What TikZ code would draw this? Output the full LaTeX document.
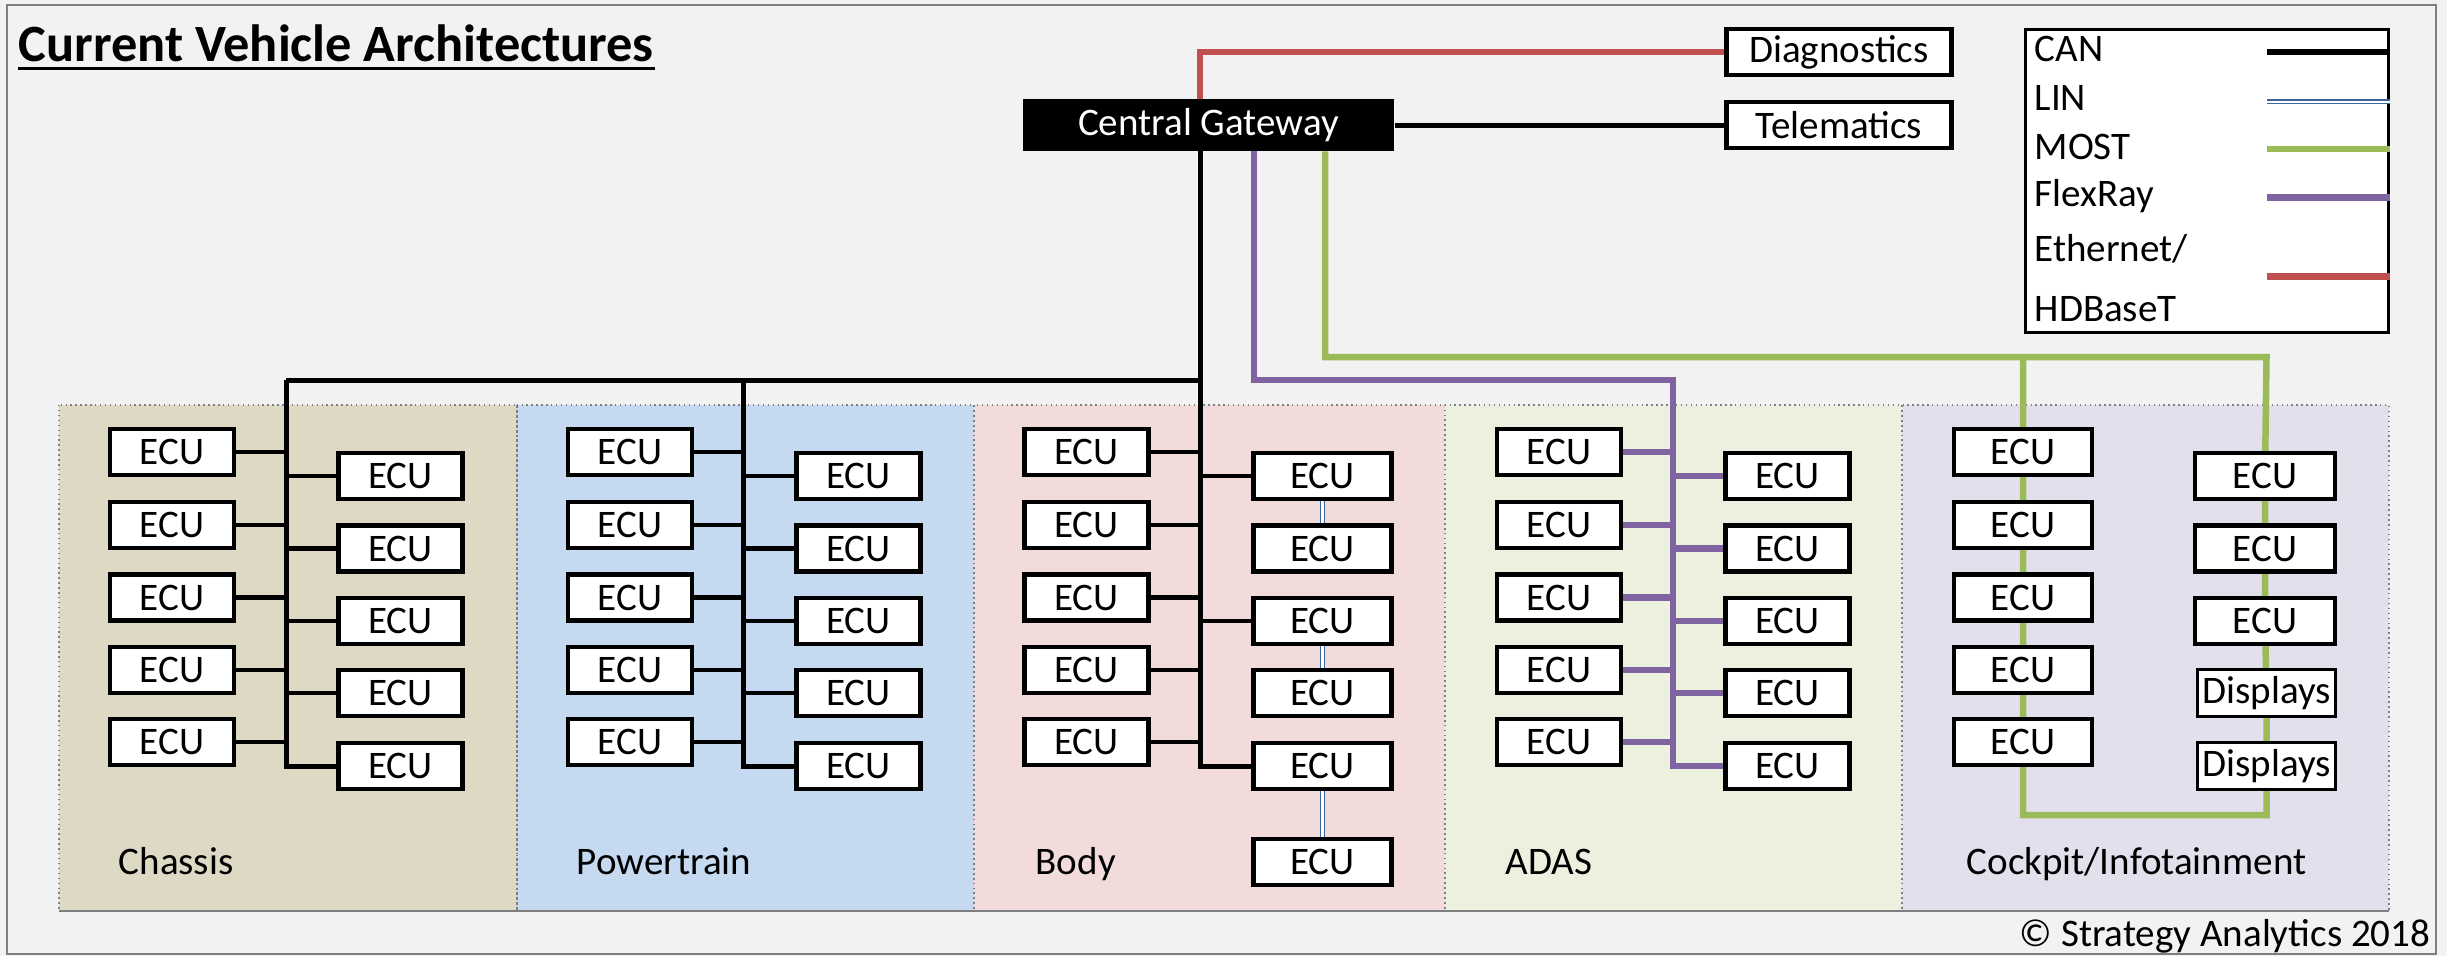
\documentclass[tikz,border=0pt]{standalone}
\usepackage{fontspec}
\setmainfont{Carlito}
\usetikzlibrary{calc}
\pgfdeclarelayer{bg}
\pgfdeclarelayer{wires}
\pgfsetlayers{bg,wires,main}
\definecolor{bgc}{HTML}{F2F2F2}
\definecolor{framegray}{HTML}{7F7F7F}
\definecolor{chassisc}{HTML}{DDD9C4}
\definecolor{powerc}{HTML}{C5D9F1}
\definecolor{bodyc}{HTML}{F2DCDB}
\definecolor{adasc}{HTML}{EBF1DE}
\definecolor{cockc}{HTML}{E4DFEC}
\definecolor{ethc}{HTML}{C0504D}
\definecolor{mostc}{HTML}{9BBB59}
\definecolor{flexc}{HTML}{8064A2}
\definecolor{linc}{HTML}{3E64A0}
\newcommand\txtfont{\fontsize{11.1}{13.3}\selectfont}
\newcommand\ttlfont{\fontsize{14.9}{18}\selectfont\bfseries}
\begin{document}
\begin{tikzpicture}[x=0.01cm,y=-0.01cm,
  ecu/.style={draw, line width=0.045cm, fill=white, minimum width=1.236cm, minimum height=0.456cm, inner sep=0pt, font=\txtfont},
  wecu/.style={ecu, minimum width=1.38cm},
  dispbox/.style={ecu, line width=0.03cm, minimum width=1.37cm, minimum height=0.466cm},
  extbox/.style={ecu, minimum width=2.25cm, minimum height=0.46cm},
  gwbox/.style={fill=black, text=white, minimum width=3.71cm, minimum height=0.514cm, inner sep=0pt, font=\txtfont},
  lbl/.style={inner sep=0pt, font=\txtfont},
  can/.style={draw=black, line width=0.045cm},
  eth/.style={draw=ethc, line width=0.065cm},
  most/.style={draw=mostc, line width=0.065cm},
  flex/.style={draw=flexc, line width=0.065cm},
  lin/.style={draw=linc, line width=0.015cm, double=white, double distance=0.022cm},
  panel/.style={draw=framegray, densely dotted, line width=0.4pt}
]
\useasboundingbox (0,0) rectangle (2447,956);
\begin{pgfonlayer}{bg}
\fill[bgc] (0,0) rectangle (2447,956);
\draw[framegray, line width=0.015cm] (7,5) rectangle (2436,954);
\fill[chassisc] (59,405) rectangle (517,911);
\fill[powerc] (517,405) rectangle (974,911);
\fill[bodyc] (974,405) rectangle (1445,911);
\fill[adasc] (1445,405) rectangle (1902,911);
\fill[cockc] (1902,405) rectangle (2389,911);
\draw[panel] (59,405) rectangle (517,911);
\draw[panel] (517,405) rectangle (974,911);
\draw[panel] (974,405) rectangle (1445,911);
\draw[panel] (1445,405) rectangle (1902,911);
\draw[panel] (1902,405) rectangle (2389,911);
\draw[framegray, line width=0.015cm] (59,911) -- (2389,911);
\end{pgfonlayer}

% title
\node[anchor=base west, inner sep=0pt, font=\ttlfont] (title) at (18,61.7) {Current Vehicle Architectures};
\draw[line width=0.03cm] (title.base west) ++(0,6.5) coordinate (ulA) -- (ulA -| title.base east);

% gateway and external boxes
\node[gwbox] (gw) at (1208.5,125) {Central Gateway};
\node[extbox] (diag) at (1839,52) {Diagnostics};
\node[extbox] (tel) at (1839,125) {Telematics};

% legend
\node[draw, line width=0.035cm, fill=white, minimum width=3.63cm, minimum height=3.03cm, inner sep=0pt] (legend) at (2207,181) {};
\node[lbl, anchor=base west] (lgcan) at (2034,61.7) {CAN};
\node[lbl, anchor=base west] (lglin) at (2034,110) {LIN};
\node[lbl, anchor=base west] (lgmost) at (2034,159) {MOST};
\node[lbl, anchor=base west] (lgflex) at (2034,206.7) {FlexRay};
\node[lbl, anchor=base west] (lgeth) at (2034,261.7) {Ethernet/};
\node[lbl, anchor=base west] (lghdb) at (2034,321.7) {HDBaseT};
\coordinate (lcA) at (2267,52.3);   \coordinate (lcB) at (legend.east |- lcA);
\coordinate (llA) at (2267,101.7);  \coordinate (llB) at (legend.east |- llA);
\coordinate (lmA) at (2267,149);    \coordinate (lmB) at (legend.east |- lmA);
\coordinate (lfA) at (2267,197.3);  \coordinate (lfB) at (legend.east |- lfA);
\coordinate (leA) at (2267,276.7);  \coordinate (leB) at (legend.east |- leA);
\draw[can, line width=0.06cm] (lcA) -- (lcB);
\draw[lin] (llA) -- (llB);
\draw[most] (lmA) -- (lmB);
\draw[flex] (lfA) -- (lfB);
\draw[eth] (leA) -- (leB);

% ECUs
\foreach \i/\yl/\yr in {1/452/476,2/525/548.5,3/597.5/621,4/670/693,5/742/766} {
  \node[ecu] (chL\i) at (172,\yl) {ECU};
  \node[ecu] (chR\i) at (400.5,\yr) {ECU};
  \node[ecu] (ptL\i) at (630,\yl) {ECU};
  \node[ecu] (ptR\i) at (858.5,\yr) {ECU};
  \node[ecu] (bdL\i) at (1086.5,\yl) {ECU};
  \node[wecu] (bdR\i) at (1322.5,\yr) {ECU};
  \node[ecu] (adL\i) at (1559,\yl) {ECU};
  \node[ecu] (adR\i) at (1787.5,\yr) {ECU};
  \node[wecu] (ckL\i) at (2023,\yl) {ECU};
}
\node[wecu] (bdR6) at (1322.5,862) {ECU};
\node[ecu, minimum width=1.40cm] (ckR1) at (2265,476) {ECU};
\node[ecu, minimum width=1.40cm] (ckR2) at (2265,548.5) {ECU};
\node[ecu, minimum width=1.40cm] (ckR3) at (2265,621) {ECU};
\node[dispbox] (dsp1) at (2266.5,693) {Displays};
\node[dispbox] (dsp2) at (2266.5,766) {Displays};

% panel labels
\node[lbl, anchor=base west] (lchassis) at (118,874) {Chassis};
\node[lbl, anchor=base west] (lpower) at (576,874) {Powertrain};
\node[lbl, anchor=base west] (lbody) at (1035,874) {Body};
\node[lbl, anchor=base west] (ladas) at (1505,874) {ADAS};
\node[lbl, anchor=base west] (lcock) at (1966,874) {Cockpit/Infotainment};
\node[lbl, anchor=base east] (copy) at (2431,946) {© Strategy Analytics 2018};

% junction coordinates
\coordinate (chTop) at (286,380);
\coordinate (ptTop) at (743,380);
\coordinate (bdTop) at (1200,380);
\coordinate (fxTurn) at (1254,380);
\coordinate (adTop) at (1673,380);
\coordinate (mTurn) at (1325,357);
\coordinate (mBot) at (2145,815);

\begin{pgfonlayer}{wires}
% Ethernet to diagnostics
\draw[eth] (gw.north -| bdTop) |- (diag.west);
% CAN
\draw[can, line width=0.05cm] (gw.east) -- (tel.west);
\draw[can, line width=0.05cm] (chTop) -- (bdTop);
\draw[can, line width=0.05cm] (gw.south -| bdTop) |- (bdR5.west);
\draw[can, line width=0.05cm] (chTop) |- (chR5.west);
\draw[can, line width=0.05cm] (ptTop) |- (ptR5.west);
\foreach \i in {1,...,5} {
  \draw[can] (chL\i.east) -- (chL\i.east -| chTop);
  \draw[can] (chR\i.west) -- (chR\i.west -| chTop);
  \draw[can] (ptL\i.east) -- (ptL\i.east -| ptTop);
  \draw[can] (ptR\i.west) -- (ptR\i.west -| ptTop);
  \draw[can] (bdL\i.east) -- (bdL\i.east -| bdTop);
}
\draw[can] (bdR1.west) -- (bdR1.west -| bdTop);
\draw[can] (bdR3.west) -- (bdR3.west -| bdTop);
% LIN
\draw[lin] (bdR1) -- (bdR2);
\draw[lin] (bdR3) -- (bdR4);
\draw[lin] (bdR5) -- (bdR6);
% FlexRay
\draw[flex] (gw.south -| fxTurn) -- (fxTurn) -- (adTop) |- (adR5.west);
\foreach \i in {1,...,5} {
  \draw[flex] (adL\i.east) -- (adL\i.east -| adTop);
  \draw[flex] (adR\i.west) -- (adR\i.west -| adTop);
}
% MOST
\draw[most] (gw.south -| mTurn) -- (mTurn) -- (mTurn -| dsp1) -- (ckR1) -- (ckR2) -- (ckR3) -- (dsp1) -- (dsp2) -- (dsp2 |- mBot) -- (mBot -| ckL5) -- (ckL5) -- (ckL4) -- (ckL3) -- (ckL2) -- (ckL1) -- (ckL1 |- mTurn);
\end{pgfonlayer}
\end{tikzpicture}
\end{document}
